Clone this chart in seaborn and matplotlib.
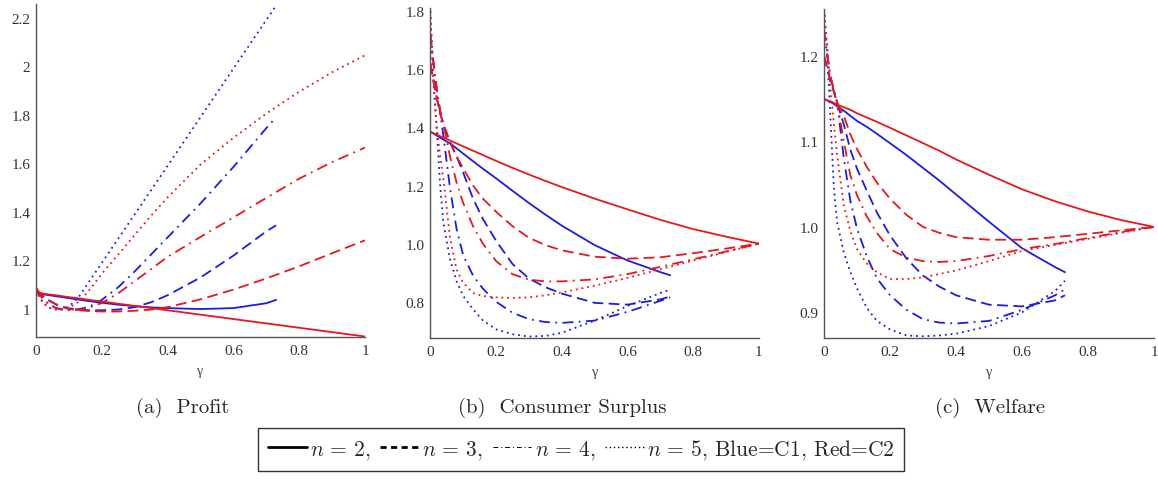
import pandas as pd
import matplotlib.pyplot as plt
import seaborn as sns
from matplotlib.lines import Line2D
from matplotlib.ticker import MultipleLocator

# gamma grids (C1 curves stop at 0.73, C2 curves run to 1)
g_c1 = [0, 0.01, 0.02, 0.03, 0.04, 0.06, 0.08, 0.1, 0.13, 0.16, 0.2, 0.25, 0.3, 0.35, 0.4, 0.5, 0.6, 0.7, 0.73]
g_c2 = [0, 0.01, 0.02, 0.03, 0.04, 0.06, 0.08, 0.1, 0.13, 0.16, 0.2, 0.25, 0.3, 0.35, 0.4, 0.5, 0.6, 0.7, 0.8, 0.9, 1.0]

# (a) Profit
profit_c1_n2 = [1.065, 1.063, 1.061, 1.059, 1.057, 1.053, 1.049, 1.045, 1.039, 1.033, 1.026, 1.018, 1.012, 1.007, 1.004, 1.0, 1.004, 1.024, 1.038]
profit_c1_n3 = [1.08, 1.065, 1.055, 1.045, 1.035, 1.02, 1.01, 1.003, 0.998, 0.995, 0.995, 0.998, 1.008, 1.028, 1.057, 1.13, 1.22, 1.32, 1.345]
profit_c1_n4 = [1.08, 1.06, 1.045, 1.03, 1.02, 1.005, 0.998, 0.997, 1.0, 1.008, 1.038, 1.09, 1.155, 1.225, 1.295, 1.435, 1.585, 1.745, 1.79]
profit_c1_n5 = [1.08, 1.05, 1.03, 1.015, 1.005, 0.998, 1.0, 1.01, 1.05, 1.11, 1.19, 1.29, 1.39, 1.49, 1.59, 1.79, 1.99, 2.19, 2.25]
profit_c2_n2 = [1.09, 1.068, 1.064, 1.062, 1.06, 1.057, 1.053, 1.049, 1.044, 1.038, 1.031, 1.022, 1.013, 1.004, 0.995, 0.977, 0.959, 0.941, 0.923, 0.905, 0.887]
profit_c2_n3 = [1.08, 1.065, 1.055, 1.045, 1.035, 1.02, 1.008, 1.0, 0.995, 0.992, 0.99, 0.99, 0.993, 0.998, 1.008, 1.04, 1.08, 1.126, 1.176, 1.23, 1.283]
profit_c2_n4 = [1.08, 1.06, 1.045, 1.03, 1.02, 1.004, 0.997, 0.995, 0.997, 1.005, 1.025, 1.065, 1.115, 1.165, 1.215, 1.297, 1.377, 1.458, 1.537, 1.605, 1.665]
profit_c2_n5 = [1.08, 1.05, 1.03, 1.015, 1.005, 1.0, 1.0, 1.005, 1.03, 1.075, 1.145, 1.225, 1.305, 1.385, 1.46, 1.595, 1.705, 1.805, 1.895, 1.975, 2.045]

# (b) Consumer surplus
cs_c1_n2 = [1.385, 1.379, 1.372, 1.365, 1.358, 1.345, 1.328, 1.31, 1.284, 1.258, 1.225, 1.182, 1.14, 1.1, 1.062, 0.995, 0.942, 0.902, 0.891]
cs_c1_n3 = [1.62, 1.56, 1.50, 1.45, 1.41, 1.35, 1.30, 1.245, 1.155, 1.085, 1.01, 0.93, 0.88, 0.85, 0.828, 0.796, 0.79, 0.808, 0.818]
cs_c1_n4 = [1.72, 1.62, 1.53, 1.45, 1.37, 1.19, 1.05, 0.96, 0.89, 0.845, 0.80, 0.762, 0.74, 0.73, 0.727, 0.735, 0.765, 0.803, 0.815]
cs_c1_n5 = [1.80, 1.55, 1.38, 1.20, 1.07, 0.946, 0.87, 0.82, 0.774, 0.735, 0.705, 0.688, 0.68, 0.682, 0.693, 0.735, 0.785, 0.83, 0.842]
cs_c2_n2 = [1.385, 1.38, 1.375, 1.37, 1.365, 1.355, 1.345, 1.335, 1.32, 1.305, 1.285, 1.261, 1.238, 1.216, 1.195, 1.155, 1.118, 1.082, 1.05, 1.024, 1.0]
cs_c2_n3 = [1.62, 1.56, 1.50, 1.45, 1.41, 1.35, 1.30, 1.26, 1.20, 1.155, 1.11, 1.06, 1.02, 0.995, 0.977, 0.955, 0.948, 0.953, 0.967, 0.983, 1.0]
cs_c2_n4 = [1.72, 1.62, 1.53, 1.46, 1.41, 1.30, 1.21, 1.14, 1.06, 1.0, 0.94, 0.895, 0.876, 0.87, 0.87, 0.877, 0.895, 0.92, 0.946, 0.973, 1.0]
cs_c2_n5 = [1.80, 1.55, 1.40, 1.30, 1.22, 1.02, 0.91, 0.865, 0.83, 0.82, 0.815, 0.813, 0.815, 0.822, 0.832, 0.855, 0.882, 0.912, 0.942, 0.971, 1.0]

# (c) Welfare
w_c1_n2 = [1.15, 1.148, 1.146, 1.144, 1.141, 1.136, 1.13, 1.124, 1.117, 1.109, 1.098, 1.084, 1.069, 1.054, 1.038, 1.006, 0.975, 0.953, 0.947]
w_c1_n3 = [1.2, 1.185, 1.17, 1.158, 1.145, 1.12, 1.09, 1.068, 1.042, 1.017, 0.99, 0.963, 0.943, 0.93, 0.92, 0.909, 0.907, 0.914, 0.92]
w_c1_n4 = [1.23, 1.2, 1.175, 1.16, 1.145, 1.08, 1.03, 0.998, 0.965, 0.94, 0.92, 0.903, 0.892, 0.888, 0.887, 0.89, 0.903, 0.92, 0.927]
w_c1_n5 = [1.255, 1.2, 1.123, 1.044, 1.005, 0.97, 0.947, 0.928, 0.905, 0.89, 0.88, 0.873, 0.872, 0.873, 0.875, 0.884, 0.9, 0.925, 0.937]
w_c2_n2 = [1.15, 1.148, 1.147, 1.145, 1.143, 1.14, 1.137, 1.133, 1.128, 1.123, 1.116, 1.107, 1.098, 1.089, 1.079, 1.061, 1.044, 1.03, 1.018, 1.008, 1.0]
w_c2_n3 = [1.2, 1.185, 1.17, 1.158, 1.145, 1.13, 1.108, 1.091, 1.07, 1.052, 1.033, 1.014, 1.0, 0.993, 0.988, 0.985, 0.985, 0.988, 0.992, 0.996, 1.0]
w_c2_n4 = [1.23, 1.2, 1.175, 1.16, 1.145, 1.1, 1.06, 1.037, 1.012, 0.993, 0.974, 0.964, 0.96, 0.959, 0.96, 0.966, 0.974, 0.98, 0.987, 0.994, 1.0]
w_c2_n5 = [1.255, 1.21, 1.16, 1.12, 1.083, 1.025, 0.995, 0.974, 0.957, 0.947, 0.939, 0.939, 0.941, 0.945, 0.949, 0.96, 0.972, 0.979, 0.986, 0.993, 1.0]

n_levels = ['n2', 'n3', 'n4', 'n5']
captions = ['(a)  Profit', '(b)  Consumer Surplus', '(c)  Welfare']


def long_frame(c1_series, c2_series):
    parts = []
    for lvl, ys in zip(n_levels, c1_series):
        parts.append(pd.DataFrame({'gamma': g_c1, 'value': ys, 'firm': 'C1', 'n': lvl}))
    for lvl, ys in zip(n_levels, c2_series):
        parts.append(pd.DataFrame({'gamma': g_c2, 'value': ys, 'firm': 'C2', 'n': lvl}))
    return pd.concat(parts, ignore_index=True)


df_profit = long_frame([profit_c1_n2, profit_c1_n3, profit_c1_n4, profit_c1_n5],
                       [profit_c2_n2, profit_c2_n3, profit_c2_n4, profit_c2_n5])
df_cs = long_frame([cs_c1_n2, cs_c1_n3, cs_c1_n4, cs_c1_n5],
                   [cs_c2_n2, cs_c2_n3, cs_c2_n4, cs_c2_n5])
df_w = long_frame([w_c1_n2, w_c1_n3, w_c1_n4, w_c1_n5],
                  [w_c2_n2, w_c2_n3, w_c2_n4, w_c2_n5])

sns.set_theme(style='white')
plt.rcParams['font.family'] = ['Liberation Serif', 'DejaVu Serif']
plt.rcParams['mathtext.fontset'] = 'cm'

palette = {'C1': '#1c1ce0', 'C2': '#e8161e'}
dashes = {'n2': '', 'n3': (6, 3), 'n4': (6, 3, 1, 3), 'n5': (1, 2.2)}

fig = plt.figure(figsize=(11.58, 4.81), dpi=100)
ax_pos = [
    [0.0311, 0.2973, 0.2841, 0.6923],
    [0.3716, 0.2952, 0.2838, 0.6852],
    [0.7116, 0.2952, 0.2850, 0.6840],
]
ylims = [(0.885, 2.256), (0.675, 1.81), (0.87, 1.255)]
yticks = [[1, 1.2, 1.4, 1.6, 1.8, 2.0, 2.2],
          [0.8, 1.0, 1.2, 1.4, 1.6, 1.8],
          [0.9, 1.0, 1.1, 1.2]]
ylabels = [['1', '1.2', '1.4', '1.6', '1.8', '2', '2.2'],
           ['0.8', '1.0', '1.2', '1.4', '1.6', '1.8'],
           ['0.9', '1.0', '1.1', '1.2']]
yminor = [0.1, 0.1, 0.05]
caption_x = [0.158, 0.486, 0.855]

for i, df in enumerate([df_profit, df_cs, df_w]):
    ax = fig.add_axes(ax_pos[i])
    sns.lineplot(data=df, x='gamma', y='value', hue='firm', style='n',
                 palette=palette, dashes=dashes, estimator=None, sort=False,
                 legend=False, linewidth=1.3, ax=ax)
    ax.set_xlim(0, 1)
    ax.set_ylim(*ylims[i])
    ax.set_xticks([0, 0.2, 0.4, 0.6, 0.8, 1.0])
    ax.set_xticklabels(['0', '0.2', '0.4', '0.6', '0.8', '1'])
    ax.set_yticks(yticks[i])
    ax.set_yticklabels(ylabels[i])
    ax.xaxis.set_minor_locator(MultipleLocator(0.1))
    ax.yaxis.set_minor_locator(MultipleLocator(yminor[i]))
    for side in ['top', 'right']:
        ax.spines[side].set_visible(False)
    for side in ['left', 'bottom']:
        ax.spines[side].set_color('#555555')
        ax.spines[side].set_linewidth(1.0)
    ax.tick_params(which='major', direction='in', length=4, width=0.8,
                   color='#555555', labelcolor='#333333', labelsize=11)
    ax.tick_params(which='minor', direction='in', length=2.5, width=0.7, color='#555555')
    ax.tick_params(axis='x', which='major', pad=5)
    ax.tick_params(axis='y', which='major', pad=4)
    ax.set_xlabel('γ', fontsize=10, color='#444444', labelpad=5)
    ax.set_ylabel('')
    fig.text(caption_x[i], 0.152, captions[i], family='cmr10',
             ha='center', va='center', fontsize=15)

handles = [
    Line2D([], [], color='black', linestyle='-', linewidth=2.0),
    Line2D([], [], color='black', linestyle=(0, (2.2, 1.6)), linewidth=2.0),
    Line2D([], [], color='black', linestyle=(0, (5, 3, 1, 3)), linewidth=0.7),
    Line2D([], [], color='black', linestyle=(0, (1, 2)), linewidth=1.0),
]
labels = ['$n\\,=\\,2$,', '$n\\,=\\,3$,', '$n\\,=\\,4$,',
          '$n\\,=\\,5$, Blue=C1, Red=C2']
leg = fig.legend(handles, labels, loc='center', bbox_to_anchor=(0.502, 0.064),
                 ncol=4, frameon=True, fancybox=False, edgecolor='black',
                 prop={'family': 'cmr10', 'size': 15.5}, handlelength=1.8,
                 handletextpad=0.15, columnspacing=0.45, borderpad=0.45)
leg.get_frame().set_linewidth(1.0)

fig.savefig('out.png', dpi=100, facecolor='white')
